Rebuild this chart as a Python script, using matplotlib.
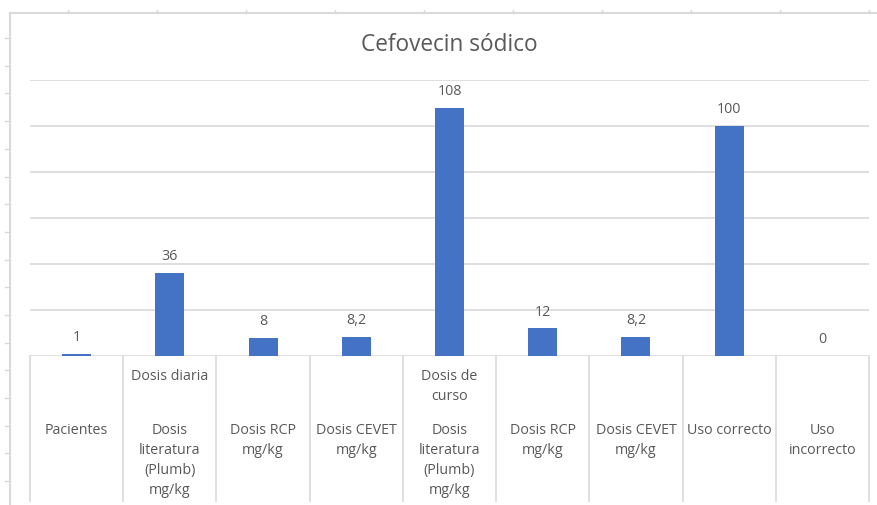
import matplotlib.pyplot as plt
from matplotlib.lines import Line2D

# datos del grafico
categorias = ['Pacientes',
              'Dosis\nliteratura\n(Plumb)\nmg/kg',
              'Dosis RCP\nmg/kg',
              'Dosis CEVET\nmg/kg',
              'Dosis\nliteratura\n(Plumb)\nmg/kg',
              'Dosis RCP\nmg/kg',
              'Dosis CEVET\nmg/kg',
              'Uso correcto',
              'Uso\nincorrecto']
grupos = {1: 'Dosis diaria', 4: 'Dosis de\ncurso'}
valores = [1, 36, 8, 8.2, 108, 12, 8.2, 100, 0]
etiquetas = ['1', '36', '8', '8,2', '108', '12', '8,2', '100', '0']

azul = '#4472C4'
gris_texto = '#595959'
gris_linea = '#D9D9D9'
fuente = 'Open Sans'
tam = 10.3

W, H = 878, 506
fig = plt.figure(figsize=(W / 100, H / 100), dpi=100)

# borde de la hoja y marcas de celdas
fig.add_artist(Line2D([10 / W, 1], [1 - 14 / H] * 2, color=gris_linea, lw=1.5))
fig.add_artist(Line2D([10 / W] * 2, [0, 1 - 14 / H], color=gris_linea, lw=1.5))
y = 39.0
while y < H:
    fig.add_artist(Line2D([5 / W, 10 / W], [1 - y / H] * 2, color=gris_linea, lw=1))
    y += 27.7
x = 68.0
while x < W:
    fig.add_artist(Line2D([x / W] * 2, [1 - 11 / H, 1 - 14 / H], color=gris_linea, lw=1))
    x += 89

# area del grafico
x0, x1, y0, ytop = 30, 869, 357, 81
ax = fig.add_axes([x0 / W, (H - y0) / H, (x1 - x0) / W, (y0 - ytop) / H])
n = len(valores)
ax.bar(range(n), valores, width=0.31, color=azul, zorder=3)
ax.set_xlim(-0.5, n - 0.5)
ax.set_ylim(0, 120)
ax.set_yticks(range(20, 121, 20))
ax.grid(axis='y', color=gris_linea, lw=1.2, zorder=0)
ax.tick_params(left=False, bottom=False, labelleft=False, labelbottom=False)
for s in ax.spines.values():
    s.set_visible(False)
ax.axhline(0, color=gris_linea, lw=1.2, zorder=2)

# etiquetas de valor
for i, (v, t) in enumerate(zip(valores, etiquetas)):
    ax.annotate(t, (i, v), xytext=(0, 12.5), textcoords='offset points',
                ha='center', va='center', fontsize=tam, color=gris_texto,
                family=fuente)

# eje de categorias con separadores
px = 1 / (y0 - ytop)
tr = ax.get_xaxis_transform()
for i in range(n + 1):
    ax.plot([i - 0.5, i - 0.5], [0, -145 * px], color=gris_linea, lw=1.2,
            transform=tr, clip_on=False)
for i, cat in enumerate(categorias):
    for k, linea in enumerate(cat.split('\n')):
        ax.text(i, -(431 - y0 + 20 * k) * px, linea, transform=tr,
                ha='center', va='center', fontsize=tam, color=gris_texto,
                family=fuente)
for i, g in grupos.items():
    for k, linea in enumerate(g.split('\n')):
        ax.text(i, -(377 - y0 + 20 * k) * px, linea, transform=tr,
                ha='center', va='center', fontsize=tam, color=gris_texto,
                family=fuente)

fig.text((x0 + x1) / 2 / W, 1 - 45 / H, 'Cefovecin sódico', ha='center',
         va='center', fontsize=16.3, color=gris_texto, family=fuente)

fig.savefig('out.png', dpi=100)
